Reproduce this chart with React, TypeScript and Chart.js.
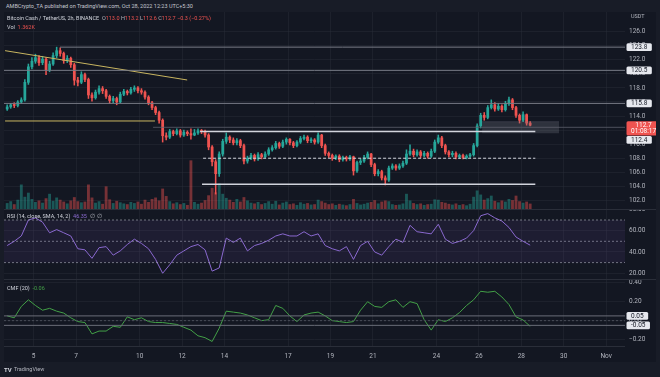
import React, { useEffect, useRef } from "react";
import { Chart, registerables } from "chart.js";
Chart.register(...registerables);

// ---------- data ----------
const START_DAY = 3.75; // Oct 3, 18:00 (day-of-October units)
const STEP_DAY = 1 / 6; // 4h per candle
const FIRST_OPEN = 115.0;
const CLOSE = [
  115.3, 115.6, 115.5, 116.0, 116.3, 118.8, 121.0, 121.8, 122.3, 121.6,
  122.1, 120.6, 121.4, 122.6, 123.3, 122.9, 121.9, 122.2, 121.3, 119.1,
  118.8, 119.9, 119.2, 117.0, 116.6, 117.4, 117.9, 117.6, 116.8, 116.2,
  116.5, 116.0, 117.1, 117.5, 117.3, 117.8, 118.0, 117.6, 117.4, 116.7,
  115.9, 115.2, 114.5, 113.4, 111.2, 111.0, 111.8, 111.5, 111.9, 111.3,
  111.7, 111.5, 111.3, 111.6, 111.9, 111.8, 111.3, 109.6, 107.5, 105.8,
  108.6, 110.4, 111.0, 110.6, 110.2, 110.5, 109.8, 107.6, 108.0, 108.4,
  107.9, 108.5, 108.2, 108.6, 109.2, 109.5, 110.1, 109.7, 110.3, 110.7,
  110.2, 109.8, 110.3, 110.8, 111.0, 110.5, 110.6, 110.3, 111.3, 109.8,
  108.7, 108.4, 108.0, 108.3, 107.8, 108.1, 107.9, 108.2, 106.2, 107.4,
  107.6, 108.1, 108.6, 107.1, 105.8, 106.1, 105.2, 104.9, 106.6, 106.9,
  106.6, 106.9, 107.3, 108.6, 109.0, 108.5, 108.9, 108.4, 108.7, 108.3,
  109.0, 110.3, 110.9, 109.8, 108.9, 108.5, 108.7, 108.2, 108.4, 108.1,
  108.3, 108.5, 109.8, 112.6, 114.1, 113.8, 115.2, 115.6, 115.0, 115.4,
  114.9, 115.8, 116.3, 115.2, 114.1, 113.4, 114.2, 113.0, 112.7,
];
const HIGH = [
  115.6, 115.8, 115.9, 116.2, 116.6, 119.2, 121.4, 122.3, 122.8, 122.6,
  122.5, 122.3, 121.8, 123.0, 123.8, 123.7, 123.1, 122.6, 122.4, 121.5,
  119.5, 120.3, 120.1, 119.4, 117.3, 117.7, 118.3, 118.2, 117.8, 117.0,
  116.8, 116.7, 117.4, 117.8, 117.7, 118.1, 118.3, 118.2, 117.9, 117.6,
  116.9, 116.1, 115.4, 114.7, 113.6, 111.6, 112.1, 112.0, 112.2, 112.1,
  112.0, 111.9, 112.2, 112.1, 112.2, 112.1, 112.0, 111.5, 109.8, 107.8,
  108.9, 110.7, 111.6, 111.2, 110.9, 110.8, 110.7, 110.0, 108.3, 108.7,
  108.6, 108.8, 108.7, 108.9, 109.5, 109.8, 110.4, 110.3, 110.6, 110.9,
  110.8, 110.4, 110.5, 111.1, 111.3, 111.2, 110.9, 110.8, 111.6, 111.4,
  110.0, 108.9, 108.6, 108.5, 108.5, 108.3, 108.3, 108.4, 108.3, 107.6,
  107.9, 108.4, 108.9, 108.7, 107.3, 106.4, 106.3, 105.5, 106.9, 107.2,
  107.1, 107.2, 107.6, 109.2, 109.9, 109.3, 109.2, 109.1, 109.0, 108.9,
  109.3, 110.6, 111.3, 111.1, 110.0, 109.1, 109.0, 108.9, 108.6, 108.6,
  108.5, 108.7, 110.1, 112.9, 114.4, 114.5, 115.5, 116.3, 115.9, 115.8,
  115.6, 116.1, 116.7, 116.5, 115.4, 114.3, 114.6, 114.3, 113.2,
];
const LOW = [
  114.8, 115.1, 115.2, 115.3, 115.8, 116.1, 118.5, 120.7, 121.5, 121.2,
  121.3, 119.9, 120.3, 121.2, 122.3, 122.5, 121.5, 121.6, 120.9, 118.4,
  118.3, 118.6, 118.9, 116.5, 116.1, 116.4, 117.1, 117.2, 116.5, 115.8,
  115.9, 115.6, 115.9, 116.9, 117.0, 117.1, 117.5, 117.3, 117.1, 116.4,
  115.6, 114.9, 114.2, 113.0, 110.3, 110.6, 110.8, 111.2, 111.3, 111.0,
  111.1, 111.2, 110.7, 111.2, 111.4, 111.5, 111.0, 109.2, 106.9, 102.9,
  105.4, 108.3, 110.1, 110.2, 109.9, 109.9, 109.5, 107.2, 107.3, 107.8,
  107.6, 107.7, 107.9, 108.0, 108.4, 109.0, 109.3, 109.4, 109.5, 110.0,
  109.9, 109.5, 109.6, 110.1, 110.6, 110.2, 110.2, 110.0, 110.1, 109.5,
  108.4, 108.1, 107.7, 107.8, 107.5, 107.6, 107.6, 107.7, 105.6, 106.0,
  107.1, 107.4, 107.9, 106.8, 105.5, 105.5, 104.9, 104.2, 104.7, 106.4,
  106.3, 106.4, 106.7, 107.1, 108.4, 108.2, 108.3, 108.1, 108.2, 108.0,
  108.1, 108.8, 110.1, 109.5, 108.6, 108.2, 108.2, 107.9, 108.0, 107.9,
  107.9, 108.1, 108.3, 109.6, 112.3, 113.4, 113.6, 115.0, 114.7, 114.8,
  114.6, 114.7, 115.5, 114.9, 113.8, 113.0, 113.2, 112.7, 112.6,
];
const VOLUME = [
  1.5, 2.0, 1.2, 2.4, 6.5, 3.2, 4.3, 2.6, 1.8, 2.2,
  1.6, 2.8, 4.0, 2.1, 3.0, 2.4, 1.9, 1.4, 2.2, 3.1,
  2.0, 1.7, 1.9, 6.5, 3.0, 1.6, 2.0, 1.3, 6.0, 2.5,
  1.5, 2.1, 1.7, 1.4, 1.2, 1.8, 1.5, 1.9, 1.3, 2.4,
  1.8, 2.6, 3.0, 2.2, 5.4, 3.4, 2.0, 1.4, 1.7, 1.2,
  1.5, 1.0, 13.0, 1.8, 1.3, 1.6, 2.3, 3.6, 5.6, 4.4,
  6.8, 4.0, 2.9, 2.4, 1.8, 2.6, 1.9, 3.1, 2.2, 1.6,
  1.4, 1.8, 1.2, 1.5, 2.0, 1.3, 2.1, 1.1, 1.6, 1.9,
  1.2, 1.4, 1.0, 1.7, 1.3, 1.5, 1.1, 1.2, 2.4, 2.0,
  1.6, 1.2, 1.4, 1.0, 1.3, 1.1, 0.9, 1.2, 2.6, 1.5,
  1.1, 1.3, 1.6, 1.8, 2.3, 1.4, 1.9, 2.2, 2.0, 1.2,
  1.0, 1.1, 1.4, 4.0, 2.2, 1.5, 1.2, 1.4, 1.0, 1.2,
  1.3, 2.5, 2.4, 1.8, 1.6, 1.3, 1.1, 1.4, 1.0, 1.2,
  0.9, 1.3, 3.2, 4.9, 3.8, 2.4, 2.8, 3.5, 2.1, 1.7,
  2.2, 1.9, 2.6, 2.3, 3.5, 2.0, 1.6, 1.9, 1.362,
];
const IND_STEP = 2; // indicators sampled every 2 candles
const RSI = [
  46, 50, 55, 70, 72, 68, 58, 61, 58, 55,
  43, 42, 34, 44, 45, 37, 41, 47, 52, 48,
  43, 33, 20, 28, 37, 41, 45, 47, 42, 22,
  25, 53, 49, 53, 41, 46, 48, 51, 55, 57,
  55, 55, 59, 55, 57, 46, 43, 41, 45, 33,
  46, 50, 40, 37, 45, 52, 49, 65, 59, 58,
  57, 66, 52, 48, 50, 53, 60, 74, 76, 72,
  69, 63, 54, 50, 46.35,
];
const CMF = [
  0.05, 0.03, 0.15, 0.22, 0.16, 0.11, 0.13, 0.1, 0.08, 0.03,
  -0.01, -0.02, -0.14, -0.11, -0.11, -0.06, -0.07, 0.04, 0.01, 0.03,
  -0.01, -0.02, -0.02, -0.03, -0.04, -0.07, -0.1, -0.16, -0.18, -0.22,
  -0.08, 0.1, 0.09, 0.08, 0.06, 0.03, 0.0, 0.01, 0.16, 0.13,
  0.05, -0.01, 0.06, 0.08, 0.09, 0.05, 0.0, -0.01, -0.02, -0.01,
  0.11, 0.2, 0.15, 0.14, 0.2, 0.22, 0.14, 0.2, 0.18, 0.01,
  -0.1, 0.01, -0.01, 0.03, 0.085, 0.16, 0.22, 0.31, 0.3, 0.31,
  0.25, 0.17, 0.04, 0.007, -0.06,
];
const DATE_TICKS = [5, 7, 10, 12, 14, 17, 19, 21, 24, 26, 28, 30, 32];
const DATE_LABELS = ["5", "7", "10", "12", "14", "17", "19", "21", "24", "26", "28", "30", "Nov"];
const PRICE_TICKS = [102, 104, 106, 108, 110, 112, 114, 116, 118, 120, 122, 124, 126];
const RSI_TICKS = [20, 40, 60, 80];
const CMF_TICKS = [-0.2, 0, 0.2, 0.4];
// drawn levels
const GRAY_LEVEL_PRICE = [123.8, 120.5, 115.8];
const GRAY_LEVEL_START = [6.24, 3.6, 3.6];
const THIN_LEVEL_PRICE = 112.4;
const THIN_LEVEL_START = 10.63;
const WHITE_LEVEL_PRICE = [111.8, 104.3];
const WHITE_LEVEL_START = [12.85, 12.94];
const DASHED_LEVEL_PRICE = 108.0;
const DASHED_LEVEL_START = 12.99;
const LEVEL_END = 28.66;
const YELLOW_H_PRICE = 113.3;
const YELLOW_H_DAYS = [3.65, 10.72];
const TREND_DAYS = [3.65, 12.24];
const TREND_PRICES = [123.3, 119.13];
const ZONE_DAYS = [26.15, 29.78];
const ZONE_PRICES = [111.55, 113.2];
const RSI_LEVELS = [70, 50, 30];
const CMF_LEVELS = [0.05, 0, -0.05];
const COUNTDOWN = "01:08:17";

// ---------- style ----------
const FONT = "Roboto, 'Liberation Sans', sans-serif";
const BG = "#131722";
const FRAME = "#181c27";
const TEXT = "#b2b5be";
const GRID = "rgba(42,46,57,0.45)";
const GREEN = "#26a69a";
const RED = "#ef5350";
const CMF_COLOR = "#43a047";
const RSI_COLOR = "#8c6bd1";
const X_MIN = 3.6;
const X_MAX = 32.89;
const AXIS_W = 31;

const xScale = (labels: boolean): any => ({
  type: "linear",
  min: X_MIN,
  max: X_MAX,
  offset: false,
  grid: { color: GRID, drawTicks: false, offset: false },
  border: { display: false },
  ticks: {
    display: labels,
    color: TEXT,
    font: { size: 6.5, family: FONT },
    padding: 6,
    autoSkip: false,
    maxRotation: 0,
    callback: (v: number) => {
      const k = DATE_TICKS.indexOf(v);
      return k >= 0 ? DATE_LABELS[k] : "";
    },
  },
  afterBuildTicks: (s: any) => {
    s.ticks = DATE_TICKS.map((v) => ({ value: v }));
  },
  afterFit: (s: any) => {
    s.height = labels ? 16 : 0;
    s.paddingLeft = 0;
    s.paddingRight = 0;
  },
});

const yScale = (min: number, max: number, ticks: number[], fmt: (v: number) => string): any => ({
  position: "right",
  min,
  max,
  grid: { color: GRID, drawTicks: false },
  border: { display: false },
  ticks: { color: TEXT, font: { size: 6.5, family: FONT }, padding: 4, callback: (v: number) => fmt(v) },
  afterBuildTicks: (s: any) => {
    s.ticks = ticks.map((v) => ({ value: v }));
  },
  afterFit: (s: any) => {
    s.width = AXIS_W;
    s.paddingTop = 0;
    s.paddingBottom = 0;
  },
});

const axisLabelPlugin: any = {
  id: "axisLabels",
  afterDraw(chart: any, _a: any, opts: any) {
    const items = (opts && opts.items) || [];
    const scale = chart.scales.y;
    const { ctx, chartArea } = chart;
    ctx.save();
    ctx.font = `6.5px ${FONT}`;
    ctx.textBaseline = "middle";
    ctx.textAlign = "center";
    const placed = items
      .map((it: any) => ({ ...it, py: scale.getPixelForValue(it.value) }))
      .sort((a: any, b: any) => a.py - b.py);
    let lastBottom = -1e9;
    const lineH = 6.3;
    for (const it of placed) {
      const h = it.lines.length * lineH + 1.6;
      let top = it.py - lineH / 2 - 0.8;
      if (top < lastBottom + 0.5) top = lastBottom + 0.5;
      const w = Math.max(...it.lines.map((t: string) => ctx.measureText(t).width)) + 9;
      const x = chartArea.right + 1.5;
      ctx.fillStyle = it.bg;
      ctx.beginPath();
      if (ctx.roundRect) ctx.roundRect(x, top, w, h, 1.5);
      else ctx.rect(x, top, w, h);
      ctx.fill();
      ctx.fillStyle = it.fg;
      it.lines.forEach((t: string, k: number) => ctx.fillText(t, x + w / 2, top + 0.8 + lineH * (k + 0.5)));
      lastBottom = top + h;
    }
    ctx.restore();
  },
};

const hline = (price: number, from: number, to: number, color: string, width: number, dash: number[] = [], axis = "y"): any => ({
  type: "line",
  data: [
    { x: from, y: price },
    { x: to, y: price },
  ],
  borderColor: color,
  borderWidth: width,
  borderDash: dash,
  pointRadius: 0,
  fill: false,
  yAxisID: axis,
  order: 0,
});

const baseOptions = (): any => ({
  responsive: false,
  animation: false,
  events: [],
  layout: { padding: 0 },
});

function mainConfig(): any {
  const days = CLOSE.map((_, i) => START_DAY + i * STEP_DAY);
  const opens = CLOSE.map((c, i) => (i === 0 ? FIRST_OPEN : CLOSE[i - 1]));
  const up = CLOSE.map((c, i) => c >= opens[i]);
  const candleColor = up.map((u) => (u ? GREEN : RED));
  const volColor = up.map((u) => (u ? "rgba(38,166,154,0.45)" : "rgba(239,83,80,0.45)"));
  const datasets: any[] = [
    {
      type: "bar",
      data: days.map((d, i) => ({ x: d, y: VOLUME[i] })),
      yAxisID: "yv",
      backgroundColor: volColor,
      barThickness: 2.2,
      grouped: false,
      order: 6,
    },
    {
      type: "bar",
      data: days.map((d, i) => ({ x: d, y: [LOW[i], HIGH[i]] })),
      yAxisID: "y",
      backgroundColor: candleColor,
      barThickness: 0.9,
      grouped: false,
      order: 5,
    },
    {
      type: "bar",
      data: days.map((d, i) => ({ x: d, y: [opens[i], CLOSE[i]] })),
      yAxisID: "y",
      backgroundColor: candleColor,
      barThickness: 2.1,
      minBarLength: 1,
      grouped: false,
      order: 4,
    },
    {
      type: "line",
      data: [
        { x: ZONE_DAYS[0], y: ZONE_PRICES[1] },
        { x: ZONE_DAYS[1], y: ZONE_PRICES[1] },
      ],
      fill: { value: ZONE_PRICES[0] },
      backgroundColor: "rgba(120,123,134,0.28)",
      borderColor: "rgba(120,123,134,0.5)",
      borderWidth: 0.5,
      pointRadius: 0,
      yAxisID: "y",
      order: 1,
    },
  ];
  GRAY_LEVEL_PRICE.forEach((p, k) => datasets.push(hline(p, GRAY_LEVEL_START[k], X_MAX, "#787b86", 1)));
  datasets.push(hline(THIN_LEVEL_PRICE, THIN_LEVEL_START, X_MAX, "#5d606b", 0.8));
  WHITE_LEVEL_PRICE.forEach((p, k) => datasets.push(hline(p, WHITE_LEVEL_START[k], LEVEL_END, "#d1d4dc", 1.3)));
  datasets.push(hline(DASHED_LEVEL_PRICE, DASHED_LEVEL_START, LEVEL_END, "#d1d4dc", 1, [3, 2]));
  datasets.push(hline(YELLOW_H_PRICE, YELLOW_H_DAYS[0], YELLOW_H_DAYS[1], "#c8b560", 1));
  datasets.push({
    type: "line",
    data: [
      { x: TREND_DAYS[0], y: TREND_PRICES[0] },
      { x: TREND_DAYS[1], y: TREND_PRICES[1] },
    ],
    borderColor: "#c8b560",
    borderWidth: 1,
    pointRadius: 0,
    fill: false,
    yAxisID: "y",
    order: 0,
  });
  const last = CLOSE.length - 1;
  const white = (v: number) => ({ value: v, lines: [v.toFixed(1)], bg: "#e6e8ee", fg: "#131722" });
  return {
    type: "bar",
    data: { datasets },
    options: {
      ...baseOptions(),
      plugins: {
        legend: { display: false },
        tooltip: { enabled: false },
        axisLabels: {
          items: [
            ...GRAY_LEVEL_PRICE.map(white),
            { value: CLOSE[last], lines: [CLOSE[last].toFixed(1), COUNTDOWN], bg: RED, fg: "#ffffff" },
            white(THIN_LEVEL_PRICE),
          ],
        },
      },
      scales: {
        x: xScale(false),
        y: yScale(100.78, 128.8, PRICE_TICKS, (v) => v.toFixed(1)),
        yv: { display: false, min: 0, max: 53 },
      },
    },
    plugins: [axisLabelPlugin],
  };
}

function rsiConfig(): any {
  const pts = RSI.map((v, j) => ({ x: START_DAY + j * IND_STEP * STEP_DAY, y: v }));
  const dash = "rgba(190,193,202,0.55)";
  const band = hline(RSI_LEVELS[0], X_MIN, X_MAX, dash, 1, [2, 2]);
  band.fill = { value: RSI_LEVELS[2] };
  band.backgroundColor = "rgba(126,87,194,0.1)";
  return {
    type: "line",
    data: {
      datasets: [
        band,
        hline(RSI_LEVELS[1], X_MIN, X_MAX, dash, 1, [2, 2]),
        hline(RSI_LEVELS[2], X_MIN, X_MAX, dash, 1, [2, 2]),
        { data: pts, borderColor: RSI_COLOR, borderWidth: 1, pointRadius: 0, fill: false, tension: 0, order: 0 },
      ],
    },
    options: {
      ...baseOptions(),
      plugins: { legend: { display: false }, tooltip: { enabled: false } },
      scales: {
        x: xScale(false),
        y: yScale(14.6, 80.33, RSI_TICKS, (v) => v.toFixed(2)),
      },
    },
  };
}

function cmfConfig(): any {
  const pts = CMF.map((v, j) => ({ x: START_DAY + j * IND_STEP * STEP_DAY, y: v }));
  const fmt = (v: number) => (v < 0 ? "\u2212" + Math.abs(v).toFixed(2) : v.toFixed(2));
  return {
    type: "line",
    data: {
      datasets: [
        hline(CMF_LEVELS[0], X_MIN, X_MAX, "#6a6d78", 1),
        hline(CMF_LEVELS[1], X_MIN, X_MAX, "#4a4e59", 1, [2, 2]),
        hline(CMF_LEVELS[2], X_MIN, X_MAX, "#6a6d78", 1),
        { data: pts, borderColor: CMF_COLOR, borderWidth: 1, pointRadius: 0, fill: false, tension: 0, order: 0 },
      ],
    },
    options: {
      ...baseOptions(),
      plugins: {
        legend: { display: false },
        tooltip: { enabled: false },
        axisLabels: {
          items: [CMF_LEVELS[0], CMF_LEVELS[2]].map((v) => ({
            value: v,
            lines: [v.toFixed(2)],
            bg: "#e6e8ee",
            fg: "#131722",
          })),
        },
      },
      scales: {
        x: xScale(true),
        y: yScale(-0.2678, 0.4397, CMF_TICKS, fmt),
      },
    },
    plugins: [axisLabelPlugin],
  };
}

const txt = (extra: any): any => ({
  position: "absolute",
  fontFamily: FONT,
  whiteSpace: "nowrap",
  lineHeight: "7px",
  ...extra,
});

export default function App() {
  const mainRef = useRef<HTMLCanvasElement>(null);
  const rsiRef = useRef<HTMLCanvasElement>(null);
  const cmfRef = useRef<HTMLCanvasElement>(null);

  useEffect(() => {
    document.body.style.margin = "0";
    const charts = [
      new Chart(mainRef.current as HTMLCanvasElement, mainConfig()),
      new Chart(rsiRef.current as HTMLCanvasElement, rsiConfig()),
      new Chart(cmfRef.current as HTMLCanvasElement, cmfConfig()),
    ];
    return () => charts.forEach((c) => c.destroy());
  }, []);

  const last = CLOSE.length - 1;
  const o = CLOSE[last - 1];
  const c = CLOSE[last];
  const chg = c - CLOSE[last - 1];
  const pct = (chg / CLOSE[last - 1]) * 100;
  const red = { color: RED };
  const gray = { color: TEXT };
  const sign = (v: number, d: number) => (v < 0 ? "\u2212" : "+") + Math.abs(v).toFixed(d);

  const canvasStyle = (top: number, h: number): any => ({ position: "absolute", left: 4, top, width: 652, height: h });

  return (
    <div style={{ position: "fixed", left: 0, top: 0, width: 660, height: 377, background: FRAME, overflow: "hidden" }}>
      <div style={{ position: "absolute", left: 4, top: 12, width: 652, height: 350, background: BG }} />
      <canvas ref={mainRef} width={652} height={197} style={canvasStyle(12, 197)} />
      <canvas ref={rsiRef} width={652} height={70} style={canvasStyle(209, 70)} />
      <canvas ref={cmfRef} width={652} height={83} style={canvasStyle(279, 83)} />
      <div style={{ position: "absolute", left: 4, top: 209, width: 652, height: 1, background: "#2a2e39" }} />
      <div style={{ position: "absolute", left: 4, top: 279, width: 652, height: 1, background: "#2a2e39" }} />
      <div style={{ position: "absolute", left: 4, top: 346, width: 621, height: 1, background: "#2a2e39" }} />

      <div style={txt({ left: 6, top: 3, fontSize: 5.5, color: "#c4c7cf" })}>
        AMBCrypto_TA published on TradingView.com, Oct 28, 2022 12:23 UTC+5:30
      </div>
      <div style={txt({ left: 7, top: 15, fontSize: 5.5, color: "#d1d4dc" })}>
        Bitcoin Cash / TetherUS, 2h, BINANCE&nbsp;&nbsp;
        <span style={gray}>O</span>
        <span style={red}>{o.toFixed(1)}</span>&nbsp;
        <span style={gray}>H</span>
        <span style={red}>{HIGH[last].toFixed(1)}</span>&nbsp;
        <span style={gray}>L</span>
        <span style={red}>{LOW[last].toFixed(1)}</span>&nbsp;
        <span style={gray}>C</span>
        <span style={red}>{c.toFixed(1)}</span>&nbsp;
        <span style={red}>
          {sign(chg, 1)} ({sign(pct, 2)}%)
        </span>
      </div>
      <div style={txt({ left: 7, top: 23.5, fontSize: 5.5, color: "#d1d4dc" })}>
        Vol&nbsp;&nbsp;<span style={red}>{VOLUME[last].toFixed(3)}K</span>
      </div>
      <div style={txt({ left: 631, top: 13, fontSize: 5.5, color: TEXT })}>USDT</div>
      <div style={txt({ left: 7, top: 213, fontSize: 5.5, color: "#d1d4dc" })}>
        RSI (14, close, SMA, 14, 2)&nbsp;&nbsp;<span style={{ color: RSI_COLOR }}>{RSI[RSI.length - 1].toFixed(2)}</span>
        &nbsp;&nbsp;<span style={gray}>∅&nbsp;&nbsp;∅</span>
      </div>
      <div style={txt({ left: 7, top: 284.5, fontSize: 5.5, color: "#d1d4dc" })}>
        CMF (20)&nbsp;&nbsp;<span style={{ color: CMF_COLOR }}>{CMF[CMF.length - 1].toFixed(2)}</span>
      </div>
      <div style={txt({ left: 4, top: 366, fontSize: 6, color: "#d1d4dc", fontWeight: 700 })}>TV</div>
      <div style={txt({ left: 14, top: 366, fontSize: 5.5, color: "#b2b5be" })}>TradingView</div>
    </div>
  );
}
